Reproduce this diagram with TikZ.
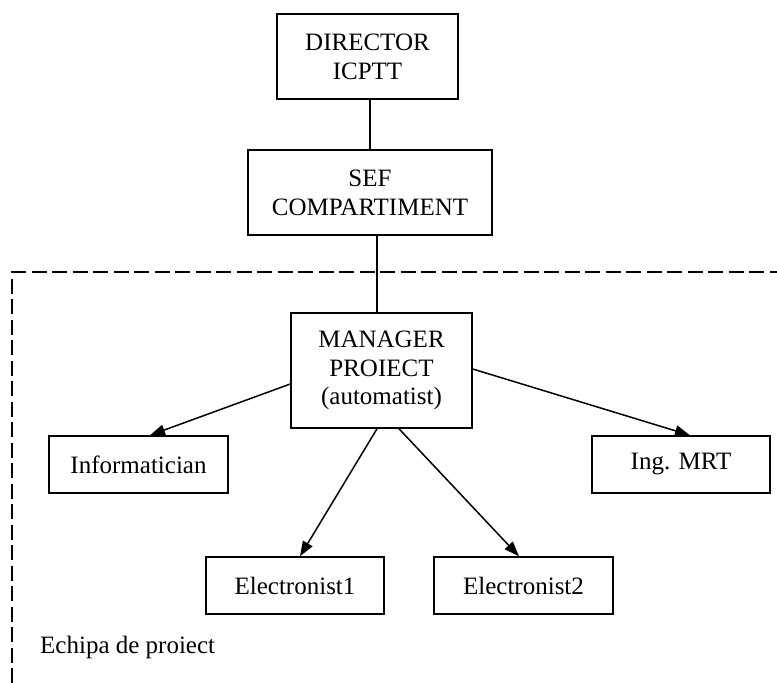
\documentclass[tikz,border=0pt]{standalone}
\usepackage{fontspec}
\setmainfont{Liberation Serif}
\usetikzlibrary{arrows.meta}
\begin{document}
\begin{tikzpicture}[x=1pt,y=-1pt,
  box/.style={draw,line width=1.5pt,inner sep=0pt,align=center,
    font=\fontsize{25}{28.7}\selectfont,minimum height=57pt},
  conn/.style={line width=1.5pt},
  arr/.style={line width=1.5pt,-{Triangle[length=15pt,width=11pt]}},
  frame/.style={line width=1.5pt,dash pattern=on 15pt off 5.5pt},
  lbl/.style={font=\fontsize{25}{28.7}\selectfont,inner sep=0pt}]
\useasboundingbox (0,0) rectangle (777,683);
\node[box,minimum width=181pt,minimum height=85pt] (dir) at (367.5,56.5) {DIRECTOR\\ICPTT};
\node[box,minimum width=244pt,minimum height=85pt] (sef) at (370,192.5) {SEF\\COMPARTIMENT};
\node[box,minimum width=181pt,minimum height=115pt] (mgr) at (381.5,370.5) {MANAGER\\PROIECT\\(automatist)};
\node[box,minimum width=179pt] (inf) at (138.5,464.5) {Informatician};
\node[box,minimum width=178pt] (mrt) at (681,464.5) {Ing. MRT};
\node[box,minimum width=178pt] (el1) at (295,585.5) {Electronist1};
\node[box,minimum width=179pt] (el2) at (523.5,585.5) {Electronist2};
\node[lbl,anchor=base west] (echipa) at (40,653) {Echipa de proiect};
\coordinate (fbl) at (12,683);
\coordinate (ftl) at (12,272);
\coordinate (ftr) at (777,272);
\draw[frame] (fbl) -- (ftl) -- (ftr);
\draw[conn] (sef.north) -- (sef.north |- dir.south);
\draw[conn] ([xshift=-4.5pt]mgr.north) -- ([xshift=-4.5pt]mgr.north |- sef.south);
\draw[arr] ([yshift=-13.5pt]mgr.west) -- ([xshift=11.5pt]inf.north);
\draw[arr] ([yshift=1.5pt]mgr.east) -- ([xshift=9pt]mrt.north);
\draw[arr] ([xshift=-4.5pt]mgr.south) -- ([xshift=5pt]el1.north);
\draw[arr] ([xshift=17.5pt]mgr.south) -- ([xshift=-4.5pt]el2.north);
\end{tikzpicture}
\end{document}
